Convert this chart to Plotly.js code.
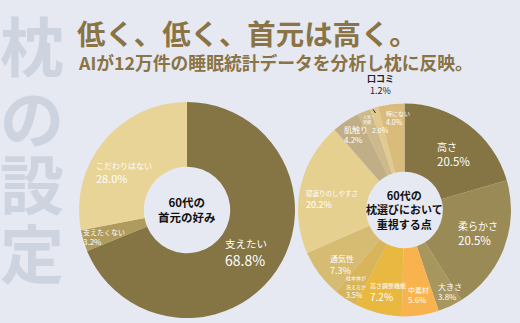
<!DOCTYPE html>
<html><head><meta charset="utf-8">
<script src="https://cdn.plot.ly/plotly-3.0.1.min.js"></script>
<style>html,body{margin:0;padding:0;background:#e6e9f1;}#chart{width:520px;height:323px;}</style>
</head><body><div id="chart"></div>
<script>
// Data
const neckLabels = ["支えたい", "支えたくない", "こだわりはない"];
const neckValues = [68.8, 3.2, 28.0];
const neckColors = ["#857545", "#b09b5e", "#e8d496"];

const pointLabels = ["高さ", "柔らかさ", "大きさ", "中素材", "高さ調整機能", "枕本体が洗えるか", "通気性", "寝返りのしやすさ", "肌触り", "人気・実績", "口コミ", "特にない"];
const pointValues = [20.5, 20.5, 3.8, 5.6, 7.2, 3.5, 7.3, 20.2, 4.2, 2.0, 1.2, 4.0];
const pointColors = ["#857545", "#9a8a55", "#a8965f", "#f8b34e", "#e8b840", "#d8b45a", "#d6bb72", "#e6d090", "#bfae86", "#cdb98a", "#e2ca8e", "#d9bc7c"];

const W = 520, H = 323;
const px = x => x / W, py = y => 1 - y / H;
const FONT = "Noto Sans CJK JP";

const traces = [
  {type: "pie", labels: neckLabels, values: neckValues, marker: {colors: neckColors, line: {width: 0}},
   sort: false, direction: "clockwise", rotation: 0, hole: 0.4, textinfo: "none", hoverinfo: "none",
   domain: {x: [px(79), px(295)], y: [py(318), py(102)]}},
  {type: "pie", labels: pointLabels, values: pointValues, marker: {colors: pointColors, line: {width: 0}},
   sort: false, direction: "clockwise", rotation: 0, hole: 0.36, textinfo: "none", hoverinfo: "none",
   domain: {x: [px(298), px(511)], y: [py(318), py(102)]}}
];

const fmt = v => v.toFixed(1) + "%";
function lab(x, y, name, val, s1, s2, color) {
  return {xref: "paper", yref: "paper", x: px(x), y: py(y), xanchor: "left", yanchor: "middle",
    align: "left", showarrow: false,
    text: `<span style="font-size:${s1}px">${name}</span><br><span style="font-size:${s2}px">${val}</span>`,
    font: {family: FONT, color: color || "#ffffff", size: s2}};
}

const ann = [];
// watermark
const wm = ["枕", "の", "設", "定"], wmY = [43, 115, 181, 250];
wm.forEach((c, i) => ann.push({xref: "paper", yref: "paper", x: px(32), y: py(wmY[i]), xanchor: "center", yanchor: "middle",
  showarrow: false, text: "<b>" + c + "</b>", font: {family: FONT, size: 64, color: "#cdd3df"}}));
// titles
ann.push({xref: "paper", yref: "paper", x: px(75), y: py(32), xanchor: "left", yanchor: "middle", showarrow: false,
  text: "<b>低く、低く、首元は高く。</b>", font: {family: FONT, size: 28.4, color: "#8a7345"}});
ann.push({xref: "paper", yref: "paper", x: px(76), y: py(62), xanchor: "left", yanchor: "middle", showarrow: false,
  text: "<b>AIが12万件の睡眠統計データを分析し枕に反映。</b>", font: {family: FONT, size: 17.8, color: "#8a7345"}});
// centers
ann.push({xref: "paper", yref: "paper", x: px(187), y: py(209), xanchor: "center", yanchor: "middle", showarrow: false,
  text: "<b>60代の<br>首元の好み</b>", font: {family: FONT, size: 11.5, color: "#111111"}});
ann.push({xref: "paper", yref: "paper", x: px(404), y: py(209), xanchor: "center", yanchor: "middle", showarrow: false,
  text: "<b>60代の<br>枕選びにおいて<br>重視する点</b>", font: {family: FONT, size: 11, color: "#111111"}});

// left labels
ann.push(lab(223, 253, neckLabels[0], fmt(neckValues[0]), 10.5, 14));
ann.push(lab(81, 237, neckLabels[1], fmt(neckValues[1]), 7, 8));
ann.push(lab(94, 173, neckLabels[2], fmt(neckValues[2]), 8, 11));

// right labels
ann.push(lab(435, 154, pointLabels[0], fmt(pointValues[0]), 10, 11.5));
ann.push(lab(456, 233, pointLabels[1], fmt(pointValues[1]), 10, 11.5));
ann.push(lab(436, 291, pointLabels[2], fmt(pointValues[2]), 8, 8));
ann.push(lab(406, 295, pointLabels[3], fmt(pointValues[3]), 7, 8));
ann.push(lab(368, 292, pointLabels[4], fmt(pointValues[4]), 6, 10));
ann.push(lab(344, 287, "枕本体が<br>洗えるか", fmt(pointValues[5]), 5, 7));
ann.push(lab(328, 265, pointLabels[6], fmt(pointValues[6]), 8, 9));
ann.push(lab(304, 199, pointLabels[7], fmt(pointValues[7]), 6.5, 9));
ann.push(lab(342, 135, pointLabels[8], fmt(pointValues[8]), 8, 8));
ann.push({xref: "paper", yref: "paper", x: px(361), y: py(119), xanchor: "left", yanchor: "middle", showarrow: false,
  align: "left", text: "人気・<br>実績", font: {family: FONT, size: 4, color: "#ffffff"}});
ann.push({xref: "paper", yref: "paper", x: px(370), y: py(130), xanchor: "left", yanchor: "middle", showarrow: false,
  text: fmt(pointValues[9]), font: {family: FONT, size: 7, color: "#ffffff"}});
ann.push({xref: "paper", yref: "paper", x: px(384), y: py(118), xanchor: "left", yanchor: "middle", showarrow: false,
  align: "left", text: `<span style="font-size:6px">${pointLabels[11]}</span><br>${fmt(pointValues[11])}`,
  font: {family: FONT, size: 7, color: "#ffffff"}});
// 口コミ outside label
ann.push({xref: "paper", yref: "paper", x: px(380), y: py(84), xanchor: "center", yanchor: "middle", showarrow: false,
  text: `<b>${pointLabels[10]}</b><br>${fmt(pointValues[10])}`, font: {family: FONT, size: 9, color: "#222222"}});
ann.push({xref: "paper", yref: "paper", ax: px(372), ay: py(108), axref: "paper", ayref: "paper", x: px(375.5), y: py(113),
  showarrow: true, arrowhead: 0, arrowwidth: 1, arrowcolor: "#222222", text: ""});

const layout = {width: W, height: H, margin: {l: 0, r: 0, t: 0, b: 0}, paper_bgcolor: "#e6e9f1", plot_bgcolor: "#e6e9f1",
  showlegend: false, annotations: ann, font: {family: FONT}};

Plotly.newPlot("chart", traces, layout, {staticPlot: true, displayModeBar: false});
</script></body></html>
